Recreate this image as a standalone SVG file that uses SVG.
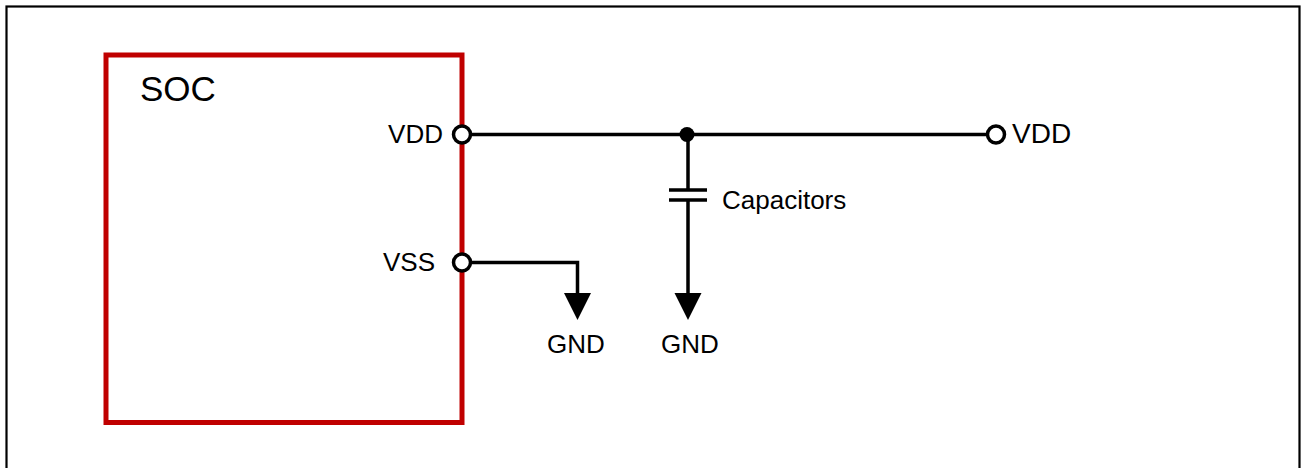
<svg xmlns="http://www.w3.org/2000/svg" width="1301" height="468" viewBox="0 0 1301 468">
<defs>
<style>
.lbl{font-family:"Liberation Sans",Arial,sans-serif;font-size:26px;fill:#000}
.lbl2{font-family:"Liberation Sans",Arial,sans-serif;font-size:28px;fill:#000}
.big{font-family:"Liberation Sans",Arial,sans-serif;font-size:35px;fill:#000}
.wire{stroke:#000;stroke-width:3.5;fill:none}
.term{stroke:#000;stroke-width:3.5;fill:#fff}
.gnd{fill:#000;stroke:none}
</style>
</defs>
<rect x="6.5" y="6.5" width="1293" height="520" fill="#fff" stroke="#000" stroke-width="2.2"/>
<g id="connectors">
<path class="wire" d="M470 134.5 H988"/>
<path class="wire" d="M688 134.5 V190 M688 200 V296"/>
<path class="wire" d="M669 190 H707 M669 200 H707"/>
<path class="wire" d="M470 262.5 H577.5 V296"/>
<polygon class="gnd" points="564,293 591,293 577.5,320"/>
<polygon class="gnd" points="674.5,293 701.5,293 688,320"/>
<circle class="gnd" cx="687" cy="134.5" r="7.5"/>
</g>
<g id="soc">
<rect x="106" y="55" width="356" height="367.5" fill="none" stroke="#c00000" stroke-width="5"/>
<text class="big" x="140" y="101">SOC</text>
</g>
<g id="soc-vdd">
<circle class="term" cx="462" cy="134.5" r="8.5"/>
<text class="lbl" x="443" y="143" text-anchor="end">VDD</text>
</g>
<g id="soc-vss">
<circle class="term" cx="462" cy="262.5" r="8.5"/>
<text class="lbl" x="435" y="271" text-anchor="end">VSS</text>
</g>
<g id="vdd-out">
<circle class="term" cx="996" cy="134.5" r="8.5"/>
<text class="lbl2" x="1012" y="143">VDD</text>
</g>
<g id="capacitors">
<text class="lbl" x="722" y="209">Capacitors</text>
</g>
<g id="gnd1">
<text class="lbl" x="576" y="353" text-anchor="middle">GND</text>
</g>
<g id="gnd2">
<text class="lbl" x="690" y="353" text-anchor="middle">GND</text>
</g>
</svg>
